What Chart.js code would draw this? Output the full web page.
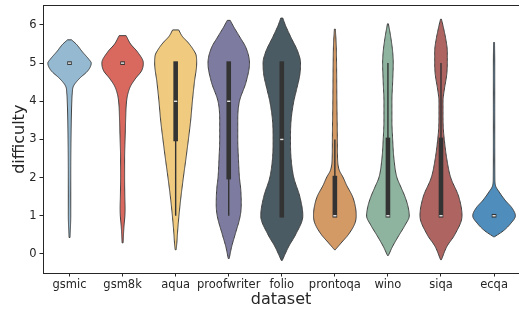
<!DOCTYPE html>
<html><head><meta charset="utf-8">
<script src="https://cdn.jsdelivr.net/npm/chart.js@4.4.0/dist/chart.umd.min.js"></script>
<style>html,body{margin:0;padding:0;background:#fff;}canvas{display:block;}</style>
</head><body>
<canvas id="c" width="519" height="309"></canvas>
<script>
const categories = ['gsmic','gsm8k','aqua','proofwriter','folio','prontoqa','wino','siqa','ecqa'];
const fillColors = ['#94b9d0','#d9685e','#efca7f','#7d7b9f','#4b5b63','#d49a66','#8eb4a0','#ae6561','#4e8dbc'];
const yTicks = [0,1,2,3,4,5,6];

// violin outlines: difficulty levels and half-widths (fraction of category spacing)
const gsmicLevels = [0.43,1.0,2.0,3.0,4.0,4.2,4.4,4.6,4.8,5.0,5.1,5.3,5.5,5.61];
const gsmicWidths = [0.009,0.023,0.023,0.028,0.043,0.051,0.075,0.189,0.345,0.409,0.364,0.24,0.126,0.038];
const gsm8kLevels = [0.29,0.7,1.0,1.2,1.5,2.0,2.5,3.0,3.5,4.0,4.2,4.4,4.6,4.8,5.0,5.3,5.5,5.72];
const gsm8kWidths = [0.009,0.025,0.043,0.047,0.042,0.038,0.038,0.047,0.057,0.075,0.1,0.151,0.245,0.358,0.391,0.277,0.151,0.066];
const aquaLevels = [0.11,0.3,0.5,1.0,1.5,2.0,2.5,3.0,3.5,4.0,4.5,5.0,5.2,5.35,5.53,5.7,5.87];
const aquaWidths = [0.009,0.023,0.032,0.062,0.1,0.145,0.194,0.24,0.283,0.315,0.353,0.396,0.387,0.334,0.24,0.126,0.057];
const proofwriterLevels = [-0.12,0.2,0.5,1.0,1.3,1.7,2.0,2.5,3.0,3.5,4.0,4.5,5.0,5.4,5.7,5.95,6.12];
const proofwriterWidths = [0.009,0.057,0.119,0.217,0.236,0.226,0.202,0.183,0.17,0.17,0.202,0.326,0.391,0.326,0.202,0.094,0.028];
const folioLevels = [-0.17,0.2,0.5,1.0,1.5,2.0,2.5,3.0,3.5,4.0,4.3,4.7,5.0,5.3,5.7,6.0,6.18];
const folioWidths = [0.009,0.132,0.258,0.396,0.34,0.226,0.175,0.164,0.175,0.226,0.277,0.34,0.353,0.302,0.164,0.066,0.019];
const prontoqaLevels = [0.11,0.3,0.5,0.8,1.0,1.2,1.5,1.8,2.0,2.2,2.5,3.0,4.0,5.0,5.5,5.89];
const prontoqaWidths = [0.009,0.126,0.251,0.377,0.402,0.391,0.334,0.221,0.157,0.081,0.051,0.047,0.038,0.032,0.025,0.009];
const winoLevels = [-0.04,0.2,0.5,0.75,1.0,1.25,1.5,1.75,2.0,2.5,3.0,3.5,4.0,4.5,5.0,5.3,5.7,6.03];
const winoWidths = [0.009,0.089,0.213,0.321,0.402,0.377,0.321,0.245,0.17,0.113,0.089,0.075,0.075,0.089,0.1,0.089,0.051,0.009];
const siqaLevels = [-0.15,0.2,0.5,1.0,1.5,2.0,2.5,3.0,3.3,3.7,4.0,4.3,4.7,5.0,5.3,5.6,5.9,6.15];
const siqaWidths = [0.009,0.113,0.258,0.396,0.334,0.183,0.108,0.062,0.043,0.038,0.038,0.062,0.108,0.119,0.119,0.094,0.051,0.009];
const ecqaLevels = [0.45,0.6,0.8,1.0,1.2,1.4,1.6,1.8,2.0,3.0,4.0,5.0,5.54];
const ecqaWidths = [0.009,0.17,0.315,0.402,0.34,0.213,0.108,0.025,0.015,0.013,0.013,0.013,0.009];

// inner box statistics
const q1 = [5,5,3,2,1,1,1,1,1];
const medians = [5,5,4,4,3,1,1,1,1];
const q3 = [5,5,5,5,5,2,3,3,1];
const whiskerLow = [5,5,1,1,1,1,1,1,1];
const whiskerHigh = [5,5,5,5,5,3,5,5,1];

const profiles = [
  [gsmicLevels, gsmicWidths],[gsm8kLevels, gsm8kWidths],[aquaLevels, aquaWidths],
  [proofwriterLevels, proofwriterWidths],[folioLevels, folioWidths],[prontoqaLevels, prontoqaWidths],
  [winoLevels, winoWidths],[siqaLevels, siqaWidths],[ecqaLevels, ecqaWidths]
];

function monotone(xs, ys){
  const n = xs.length, d = [], m = new Array(n);
  for (let i=0;i<n-1;i++) d.push((ys[i+1]-ys[i])/(xs[i+1]-xs[i]));
  m[0]=d[0]; m[n-1]=d[n-2];
  for (let i=1;i<n-1;i++) m[i] = (d[i-1]*d[i] <= 0) ? 0 : (d[i-1]+d[i])/2;
  for (let i=0;i<n-1;i++){
    if (d[i]===0){ m[i]=0; m[i+1]=0; continue; }
    const a=m[i]/d[i], b=m[i+1]/d[i], s=a*a+b*b;
    if (s>9){ const t=3/Math.sqrt(s); m[i]=t*a*d[i]; m[i+1]=t*b*d[i]; }
  }
  return function(x){
    let i=0; while(i<n-2 && x>xs[i+1]) i++;
    const h=xs[i+1]-xs[i], t=(x-xs[i])/h, t2=t*t, t3=t2*t;
    return (2*t3-3*t2+1)*ys[i]+(t3-2*t2+t)*h*m[i]+(-2*t3+3*t2)*ys[i+1]+(t3-t2)*h*m[i+1];
  };
}

const violinPlugin = {
  id: 'violins',
  beforeDatasetsDraw(chart){
    const {ctx, scales:{x, y}} = chart;
    profiles.forEach(([lv, wd], i) => {
      const f = monotone(lv, wd);
      const lo = lv[0], hi = lv[lv.length-1];
      const steps = 200;
      const right = [], left = [];
      for (let k=0;k<=steps;k++){
        const v = lo + (hi-lo)*k/steps;
        const w = Math.max(0.004, f(v));
        const py = y.getPixelForValue(v);
        right.push([x.getPixelForValue(i + w), py]);
        left.push([x.getPixelForValue(i - w), py]);
      }
      ctx.save();
      ctx.beginPath();
      right.forEach((p,k)=>{ if(k===0) ctx.moveTo(p[0],p[1]); else ctx.lineTo(p[0],p[1]); });
      for (let k=left.length-1;k>=0;k--) ctx.lineTo(left[k][0], left[k][1]);
      ctx.closePath();
      ctx.fillStyle = fillColors[i];
      ctx.fill();
      ctx.lineWidth = 1;
      ctx.strokeStyle = '#404040';
      ctx.lineJoin = 'round';
      ctx.stroke();

      // inner box
      const cx = x.getPixelForValue(i);
      ctx.strokeStyle = '#333333';
      ctx.lineWidth = 1.4;
      ctx.beginPath();
      ctx.moveTo(cx, y.getPixelForValue(whiskerLow[i]));
      ctx.lineTo(cx, y.getPixelForValue(whiskerHigh[i]));
      ctx.stroke();
      const top = y.getPixelForValue(q3[i]) - 1.8;
      const bot = y.getPixelForValue(q1[i]) + 1.8;
      ctx.fillStyle = '#333333';
      ctx.fillRect(cx - 2.3, top, 4.6, bot - top);
      const my = y.getPixelForValue(medians[i]);
      ctx.fillStyle = '#e8e8e8';
      ctx.fillRect(cx - 1.6, my - 0.7, 3.2, 1.4);
      ctx.restore();
    });
  },
  afterDraw(chart){
    const {ctx, chartArea} = chart;
    ctx.save();
    ctx.strokeStyle = '#262626';
    ctx.lineWidth = 1;
    ctx.beginPath();
    ctx.moveTo(chartArea.left, chartArea.top);
    ctx.lineTo(chartArea.right, chartArea.top);
    ctx.stroke();
    ctx.restore();
  }
};

Chart.defaults.font.family = "'DejaVu Sans', sans-serif";
Chart.defaults.color = '#262626';

new Chart(document.getElementById('c'), {
  type: 'scatter',
  data: { datasets: [{ data: [], pointRadius: 0 }] },
  options: {
    responsive: false,
    animation: false,
    devicePixelRatio: 1,
    layout: { padding: { top: 5.5, right: 0, left: 0, bottom: 0 } },
    plugins: { legend: { display: false }, tooltip: { enabled: false } },
    scales: {
      x: {
        type: 'linear', min: -0.5, max: 8.47, bounds: 'data',
        afterBuildTicks(s){ s.ticks = categories.map((_, i) => ({ value: i })); },
        afterFit(s){ s.height = 36; s.paddingLeft = 0; s.paddingRight = 0; },
        ticks: { callback: (v) => categories[v], autoSkip: false, maxRotation: 0, padding: 2,
                 font: { size: 11.5 }, color: '#262626' },
        grid: { drawOnChartArea: false, drawTicks: true, tickLength: 3.5, color: '#262626' },
        border: { display: true, color: '#262626', width: 1 },
        title: { display: true, text: 'dataset', font: { size: 16 }, color: '#262626', padding: { top: 0, bottom: 0 } }
      },
      y: {
        type: 'linear', min: -0.5, max: 6.51, bounds: 'data',
        afterBuildTicks(s){ s.ticks = yTicks.map(v => ({ value: v })); },
        afterFit(s){ s.width = 43; s.paddingTop = 0; s.paddingBottom = 0; },
        ticks: { padding: 3, font: { size: 11.5 }, color: '#262626' },
        grid: { drawOnChartArea: false, drawTicks: true, tickLength: 3.5, color: '#262626' },
        border: { display: true, color: '#262626', width: 1 },
        title: { display: true, text: 'difficulty', font: { size: 16 }, color: '#262626', padding: { top: 10, bottom: 0 } }
      }
    }
  },
  plugins: [violinPlugin]
});
</script>
</body></html>
